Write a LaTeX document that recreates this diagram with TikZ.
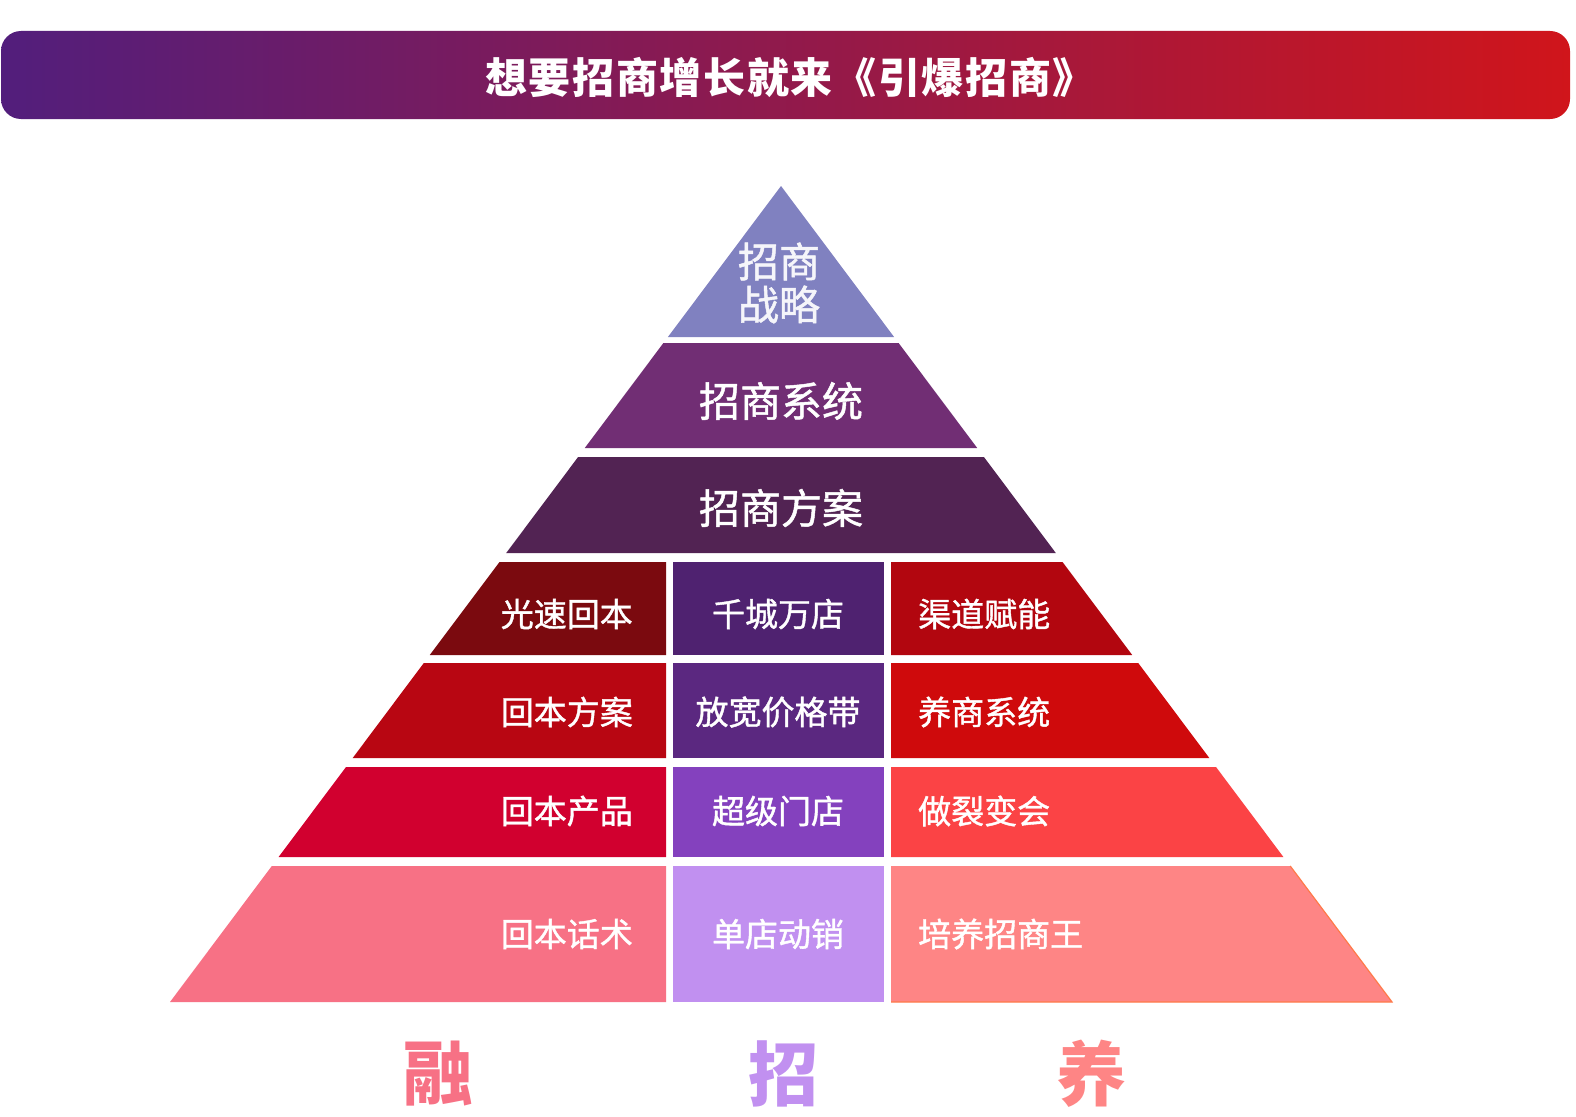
\documentclass[tikz,border=0pt]{standalone}
\usepackage{fontspec}
\usepackage{graphicx}
\newfontfamily\cjk{Noto Sans CJK SC}
\newfontfamily\cjkm[FakeBold=1.2]{Noto Sans CJK SC}
\newfontfamily\cjkt[LetterSpace=4]{Noto Sans CJK SC}
\definecolor{bannerL}{HTML}{521E7C}
\definecolor{bannerR}{HTML}{D0151B}
\definecolor{tone}{HTML}{8081C0}
\definecolor{ttwo}{HTML}{712E74}
\definecolor{tthree}{HTML}{522353}
\definecolor{rfourl}{HTML}{7B0A0F}
\definecolor{rfourm}{HTML}{4F2270}
\definecolor{rfourr}{HTML}{B2060F}
\definecolor{rfivel}{HTML}{B80612}
\definecolor{rfivem}{HTML}{5B2880}
\definecolor{rfiver}{HTML}{CF0A0C}
\definecolor{rsixl}{HTML}{D1002F}
\definecolor{rsixm}{HTML}{8441BE}
\definecolor{rsixr}{HTML}{FB4345}
\definecolor{rsevl}{HTML}{F77185}
\definecolor{rsevm}{HTML}{C190F0}
\definecolor{rsevr}{HTML}{FE8585}
\definecolor{edgeor}{HTML}{FF7A4A}
\tikzset{
  bigtxt/.style={text=white, inner sep=0pt, font=\cjkm\fontsize{41pt}{43pt}\selectfont},
  celltxt/.style={text=white, inner sep=0pt, font=\cjkm\fontsize{33pt}{36pt}\selectfont},
  foottxt/.style={inner sep=0pt, font=\cjk\bfseries\fontsize{70pt}{72pt}\selectfont},
  titletxt/.style={text=white, inner sep=0pt, font=\cjkt\bfseries\fontsize{42pt}{44pt}\selectfont}
}
\begin{document}
\begin{tikzpicture}[x=1pt,y=-1pt]
\useasboundingbox (0,0) rectangle (1576,1116);
\fill[white] (0,0) rectangle (1576,1116);
% banner
\shade[left color=bannerL, right color=bannerR, rounded corners=20pt] (1,31) rectangle (1570,119);
\node[titletxt] (title) at (790,77) {想要招商增长就来《引爆招商》};
% tier 1
\fill[tone] (781,186) -- (894.1,337) -- (667.9,337) -- cycle;
\node[bigtxt, text=white!92!tone, align=center] (s1) at (779,283) {招商\\战略};
% tier 2
\fill[ttwo] (663.4,343) -- (898.6,343) -- (977.2,448) -- (584.8,448) -- cycle;
\node[bigtxt] (s2) at (781,401) {招商系统};
% tier 3
\fill[tthree] (578.1,457) -- (983.9,457) -- (1055.8,553) -- (506.2,553) -- cycle;
\node[bigtxt] (s3) at (781,508) {招商方案};
% tier 4
\fill[rfourl] (499.5,562) -- (666,562) -- (666,655) -- (429.8,655) -- cycle;
\fill[rfourm] (673,562) rectangle (884,655);
\fill[rfourr] (891,562) -- (1062.5,562) -- (1132.2,655) -- (891,655) -- cycle;
\node[celltxt, anchor=east] (a4) at (633,614) {光速回本};
\node[celltxt] (b4) at (778,614) {千城万店};
\node[celltxt, anchor=west] (c4) at (918,614) {渠道赋能};
% tier 5
\fill[rfivel] (423.8,663) -- (666,663) -- (666,758) -- (352.7,758) -- cycle;
\fill[rfivem] (673,663) rectangle (884,758);
\fill[rfiver] (891,663) -- (1138.2,663) -- (1209.3,758) -- (891,758) -- cycle;
\node[celltxt, anchor=east] (a5) at (633,712) {回本方案};
\node[celltxt] (b5) at (778,712) {放宽价格带};
\node[celltxt, anchor=west] (c5) at (918,712) {养商系统};
% tier 6
\fill[rsixl] (346,767) -- (666,767) -- (666,857) -- (278.6,857) -- cycle;
\fill[rsixm] (673,767) rectangle (884,857);
\fill[rsixr] (891,767) -- (1216,767) -- (1283.4,857) -- (891,857) -- cycle;
\node[celltxt, anchor=east] (a6) at (633,811) {回本产品};
\node[celltxt] (b6) at (778,811) {超级门店};
\node[celltxt, anchor=west] (c6) at (918,811) {做裂变会};
% tier 7
\fill[rsevl] (271.8,866) -- (666,866) -- (666,1002) -- (170,1002) -- cycle;
\fill[rsevm] (673,866) rectangle (884,1002);
\fill[rsevr] (891,866) -- (1290.2,866) -- (1392,1002) -- (891,1002) -- cycle;
\draw[edgeor, line width=1.2pt] (1290.2,866) -- (1392,1002) -- (891,1002);
\node[celltxt, anchor=east] (a7) at (633,934) {回本话术};
\node[celltxt] (b7) at (778,934) {单店动销};
\node[celltxt, anchor=west] (c7) at (918,934) {培养招商王};
% footer labels
\node[foottxt, text=rsevl] (f1) at (438,1074) {融};
\node[foottxt, text=rsevm] (f2) at (783,1074) {招};
\node[foottxt, text=rsevr] (f3) at (1091,1074) {养};
\end{tikzpicture}
\end{document}
